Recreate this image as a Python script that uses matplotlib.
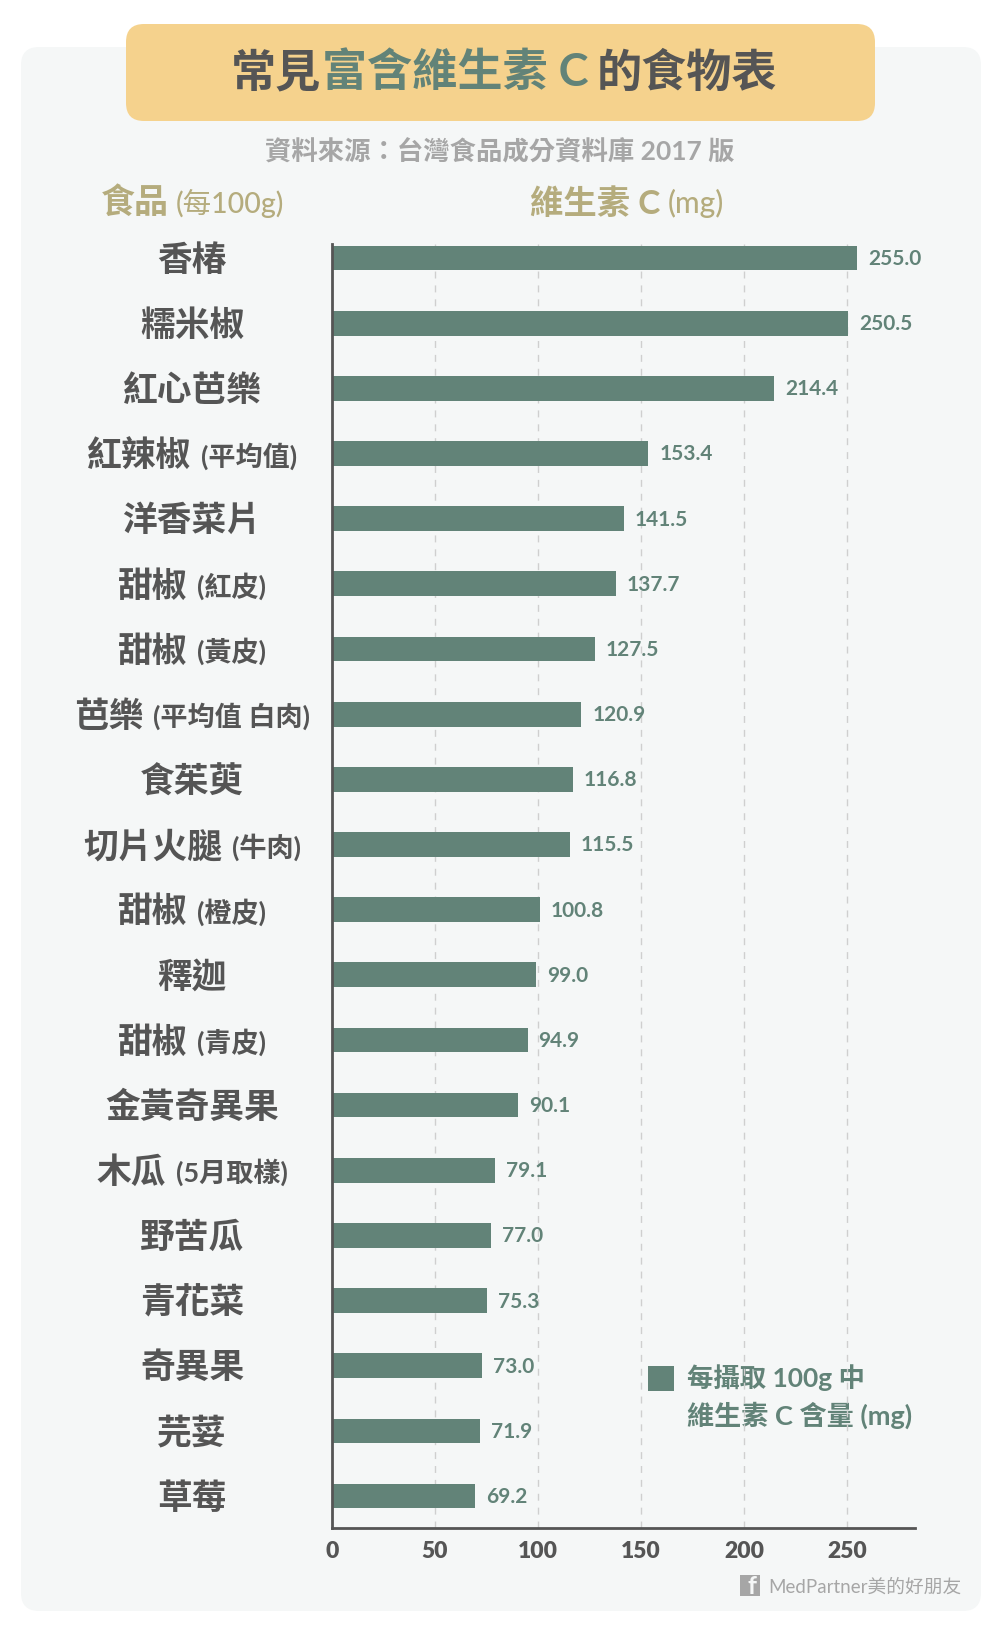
import matplotlib
matplotlib.use('Agg')
import matplotlib.pyplot as plt
from matplotlib.patches import FancyBboxPatch, Rectangle
from matplotlib.transforms import blended_transform_factory

plt.rcParams['font.family'] = ['Lato', 'Noto Sans CJK TC', 'DejaVu Sans']

# Data
foods = ['香椿', '糯米椒', '紅心芭樂', '紅辣椒', '洋香菜片', '甜椒', '甜椒', '芭樂', '食茱萸', '切片火腿',
         '甜椒', '釋迦', '甜椒', '金黃奇異果', '木瓜', '野苦瓜', '青花菜', '奇異果', '芫荽', '草莓']
notes = ['', '', '', '(平均值)', '', '(紅皮)', '(黃皮)', '(平均值 白肉)', '', '(牛肉)',
         '(橙皮)', '', '(青皮)', '', '(5月取樣)', '', '', '', '', '']
values = [255.0, 250.5, 214.4, 153.4, 141.5, 137.7, 127.5, 120.9, 116.8, 115.5,
          100.8, 99.0, 94.9, 90.1, 79.1, 77.0, 75.3, 73.0, 71.9, 69.2]
xticks = [0, 50, 100, 150, 200, 250]
xtick_labels = ['0', '50', '100', '150', '200', '250']

GREEN = '#628378'
DARK = '#555555'
TAN = '#B5AC7D'
GREY = '#A6A6A6'

fig = plt.figure(figsize=(10, 16.33), dpi=100, facecolor='white')

# background layer in pixel coordinates
bg = fig.add_axes([0, 0, 1, 1])
bg.set_xlim(0, 1000)
bg.set_ylim(1633, 0)
bg.axis('off')
bg.add_patch(FancyBboxPatch((21, 48), 960, 1564, boxstyle='round,pad=0,rounding_size=18',
                            fc='#F5F7F7', ec='none'))
bg.add_patch(FancyBboxPatch((126, 25), 749, 97, boxstyle='round,pad=0,rounding_size=18',
                            fc='#F5D28D', ec='none'))


def draw_runs(x, y, runs, align='left', transform=None, gap=7):
    # runs = (text, size, color, weight), drawn one after another
    renderer = fig.canvas.get_renderer()
    tr = transform if transform is not None else bg.transData
    gaps = gap if isinstance(gap, list) else [gap] * len(runs)
    items = []
    total = 0
    for (text, size, color, weight), g in zip(runs, gaps):
        t = bg.text(0, y, text, fontsize=size, color=color, fontweight=weight,
                    va='center', ha='left', transform=tr, zorder=5)
        w = t.get_window_extent(renderer).width
        items.append((t, w, g))
        total += w + g
    total -= items[-1][2]
    pos = x - total / 2 if align == 'center' else x
    for t, w, g in items:
        t.set_x(pos)
        pos += w + g


# Title and headers
draw_runs(504, 73, [('常見', 32.5, DARK, 'bold'), ('富含維生素 C', 32.5, GREEN, 'bold'),
                    ('的食物表', 32.5, DARK, 'bold')], align='center', gap=[1, 8, 0])
draw_runs(500, 152, [('資料來源：台灣食品成分資料庫 2017 版', 19, GREY, 'bold')], align='center')
draw_runs(101, 203, [('食品', 24.5, TAN, 'bold'), ('(每100g)', 20.5, TAN, 'medium')])
draw_runs(530, 203, [('維生素 C', 24, TAN, 'bold'), ('(mg)', 21.5, TAN, 'medium')])

# Chart
ax = fig.add_axes([0.332, 1 - 1529 / 1633, 0.583, (1529 - 245) / 1633], facecolor='none')
positions = list(range(len(foods)))
ax.grid(axis='x', color='#CFCFCF', linestyle=(0, (5, 5)), linewidth=1)
ax.set_axisbelow(True)
ax.barh(positions, values, height=0.38, color=GREEN)
ax.set_xlim(0, 283)
ax.set_ylim(19.49, -0.215)
ax.set_yticks([])
ax.set_xticks(xticks, labels=xtick_labels)
ax.tick_params(axis='x', length=0, pad=9, labelsize=16.5, labelcolor=DARK)
for side in ['top', 'right']:
    ax.spines[side].set_visible(False)
for side in ['left', 'bottom']:
    ax.spines[side].set_color(DARK)
    ax.spines[side].set_linewidth(2)

for pos, val in zip(positions, values):
    ax.annotate(f'{val:.1f}', (val, pos), xytext=(8, 0), textcoords='offset points',
                va='center', ha='left', fontsize=15, color=GREEN, fontweight='bold')

# Food names
trans = blended_transform_factory(bg.transData, ax.transData)
for pos, food, note in zip(positions, foods, notes):
    runs = [(food, 25, DARK, 'bold')]
    if note:
        runs.append((note, 19.5, DARK, 'bold'))
    draw_runs(192, pos + 0.02, runs, align='center', transform=trans, gap=10)

# Legend
bg.add_patch(Rectangle((648, 1367), 26, 25, fc=GREEN, ec='none', zorder=6))
draw_runs(687, 1378, [('每攝取 100g 中', 19, GREEN, 'bold')])
draw_runs(687, 1415, [('維生素 C 含量 (mg)', 19.5, GREEN, 'bold')])

# Footer
bg.add_patch(Rectangle((740, 1576), 20, 21, fc=GREY, ec='none', zorder=6))
bg.text(752, 1587, 'f', fontsize=18, color='#F5F7F7', fontweight='bold', ha='center', va='center', zorder=7)
draw_runs(768, 1587, [('MedPartner美的好朋友', 13.5, GREY, 'normal')])

# tick labels have to be made bold after the first draw
fig.canvas.draw()
for label in ax.get_xticklabels():
    label.set_fontweight('heavy')

fig.savefig('out.png', dpi=100)
